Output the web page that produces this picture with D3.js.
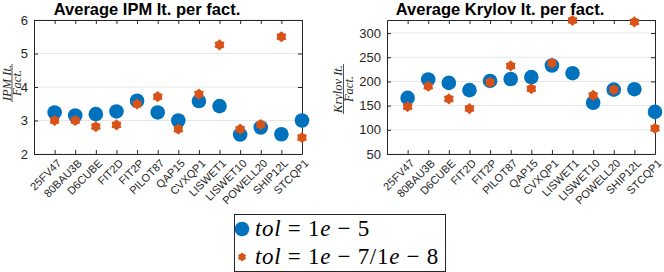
<!DOCTYPE html>
<html>
<head>
<meta charset="utf-8">
<script src="https://cdn.jsdelivr.net/npm/d3@7"></script>
<style>
  body { margin: 0; background: #fff; }
  svg { display: block; }
</style>
</head>
<body>
<script>
var problems = ["25FV47", "80BAU3B", "D6CUBE", "FIT2D", "FIT2P", "PILOT87", "QAP15",
  "CVXQP1", "LISWET1", "LISWET10", "POWELL20", "SHIP12L", "STCQP1"];

// average IPM iterations per factorization
var ipmTol5  = [3.24, 3.15, 3.19, 3.27, 3.59, 3.24, 3.0, 3.58, 3.43, 2.58, 2.79, 2.59, 3.0];
var ipmTol78 = [3.0, 3.0, 2.82, 2.87, 3.49, 3.71, 2.74, 3.79, 5.26, 2.74, 2.88, 5.5, 2.49];

// average Krylov iterations per factorization
var krylovTol5  = [166, 204, 197, 182, 201, 205, 209, 233, 217, 156, 183, 184, 137];
var krylovTol78 = [148, 190, 164, 144, 198, 232, 185, 238, 326, 171, 183, 323, 103];

var ipmTicks = [2, 3, 4, 5, 6];
var krylovTicks = [50, 100, 150, 200, 250, 300];

var blue = "#0072BD", orange = "#D95319", axisCol = "#262626";

var svg = d3.select("body").append("svg")
  .attr("width", 664)
  .attr("height", 272);

function hexagram(r) {
  var pts = [];
  for (var i = 0; i < 12; i++) {
    var a = Math.PI / 6 * i - Math.PI / 2;
    var rr = i % 2 ? r * 0.75 : r;
    pts.push([rr * Math.cos(a), rr * Math.sin(a)]);
  }
  return "M" + pts.join("L") + "Z";
}

function panel(opt) {
  var x = d3.scaleLinear().domain([0, problems.length]).range([opt.left, opt.right]);
  var y = d3.scaleLinear().domain(opt.ydomain).range([154, 20]);
  var g = svg.append("g");

  // grid
  g.append("g").selectAll("line")
    .data(opt.ticks)
    .enter().append("line")
    .attr("x1", opt.left).attr("x2", opt.right)
    .attr("y1", function(d) { return y(d); })
    .attr("y2", function(d) { return y(d); })
    .attr("stroke", "#e6e6e6")
    .attr("stroke-width", 1);

  var xAxis = d3.axisBottom(x)
    .tickValues(d3.range(1, problems.length + 1))
    .tickFormat(function(d) { return problems[d - 1]; })
    .tickSizeInner(-4).tickSizeOuter(0);
  var gx = g.append("g")
    .attr("transform", "translate(0,154)")
    .call(xAxis);
  gx.selectAll("text")
    .attr("transform", "rotate(-45)")
    .attr("text-anchor", "end")
    .attr("dx", "-0.2em")
    .attr("dy", "0.9em")
    .attr("y", 2)
    .attr("x", 0);

  g.append("g")
    .attr("transform", "translate(0,20)")
    .call(d3.axisTop(x).tickValues(d3.range(1, problems.length + 1))
      .tickFormat("").tickSizeInner(-4).tickSizeOuter(0));

  var gy = g.append("g")
    .attr("transform", "translate(" + opt.left + ",0)")
    .call(d3.axisLeft(y).tickValues(opt.ticks).tickFormat(d3.format("d"))
      .tickSizeInner(-4).tickSizeOuter(0).tickPadding(6));

  g.append("g")
    .attr("transform", "translate(" + opt.right + ",0)")
    .call(d3.axisRight(y).tickValues(opt.ticks).tickFormat("").tickSizeInner(-4).tickSizeOuter(0));

  g.selectAll(".domain").attr("stroke", axisCol);
  g.selectAll(".tick line").attr("stroke", axisCol);
  gx.selectAll("text").attr("fill", axisCol).style("font", "11px 'Liberation Sans', Arial, sans-serif");
  gy.selectAll("text").attr("fill", axisCol).style("font", "13px 'Liberation Sans', Arial, sans-serif");

  // markers
  g.append("g").selectAll("circle")
    .data(opt.s1)
    .enter().append("circle")
    .attr("cx", function(d, i) { return x(i + 1); })
    .attr("cy", function(d) { return y(d); })
    .attr("r", 7.3)
    .attr("fill", blue);

  g.append("g").selectAll("path")
    .data(opt.s2)
    .enter().append("path")
    .attr("transform", function(d, i) { return "translate(" + x(i + 1) + "," + y(d) + ")"; })
    .attr("d", hexagram(5.6))
    .attr("fill", orange);

  // title
  g.append("text")
    .attr("x", (opt.left + opt.right) / 2 - 21)
    .attr("y", 15)
    .attr("text-anchor", "middle")
    .style("font", "bold 16.5px 'Liberation Sans', Arial, sans-serif")
    .attr("fill", "#000")
    .text(opt.title);

  // y label as fraction
  var lab = g.append("g")
    .attr("transform", "translate(" + opt.labx + "," + opt.laby + ") rotate(-90)")
    .style("font", "italic 12.5px 'Liberation Serif', 'Times New Roman', serif")
    .attr("fill", axisCol);
  var num = lab.append("text").attr("text-anchor", "middle").attr("y", -1.2).text(opt.num);
  lab.append("text").attr("text-anchor", "middle").attr("y", 9).text("Fact.");
  var w = num.node().getComputedTextLength();
  lab.append("line")
    .attr("x1", -w / 2 - 1).attr("x2", w / 2 + 1)
    .attr("y1", 0).attr("y2", 0)
    .attr("stroke", axisCol).attr("stroke-width", 0.8);
}

panel({ left: 34, right: 302, ydomain: [2, 6], ticks: ipmTicks, s1: ipmTol5, s2: ipmTol78,
  title: "Average IPM It. per fact.", num: "IPM It.", labx: 12, laby: 83 });
panel({ left: 387, right: 655, ydomain: [50, 327], ticks: krylovTicks, s1: krylovTol5, s2: krylovTol78,
  title: "Average Krylov It. per fact.", num: "Krylov It.", labx: 343.5, laby: 89 });

// legend
var legend = svg.append("g");
legend.append("rect")
  .attr("x", 234.5).attr("y", 214.5)
  .attr("width", 211).attr("height", 57)
  .attr("fill", "#fff")
  .attr("stroke", axisCol)
  .attr("stroke-width", 1);

var entries = [
  { mark: "circle", rest: [["tol", 1], [" = 1", 0], ["e", 1], [" \u2212 5", 0]] },
  { mark: "hex", rest: [["tol", 1], [" = 1", 0], ["e", 1], [" \u2212 7/1", 0], ["e", 1], [" \u2212 8", 0]] }
];
entries.forEach(function(e, i) {
  var cy = 229 + i * 28;
  if (e.mark === "circle") {
    legend.append("circle").attr("cx", 242).attr("cy", cy).attr("r", 7.3).attr("fill", blue);
  } else {
    legend.append("path").attr("transform", "translate(242," + cy + ")")
      .attr("d", hexagram(4.5)).attr("fill", orange);
  }
  var t = legend.append("text")
    .attr("x", 255).attr("y", cy + 7)
    .style("font-family", "'Liberation Serif', 'Times New Roman', serif")
    .style("font-size", "23px")
    .style("letter-spacing", "0.7px")
    .style("white-space", "pre")
    .attr("fill", "#000");
  e.rest.forEach(function(p) {
    t.append("tspan").style("font-style", p[1] ? "italic" : "normal").text(p[0]);
  });
});
</script>
</body>
</html>
